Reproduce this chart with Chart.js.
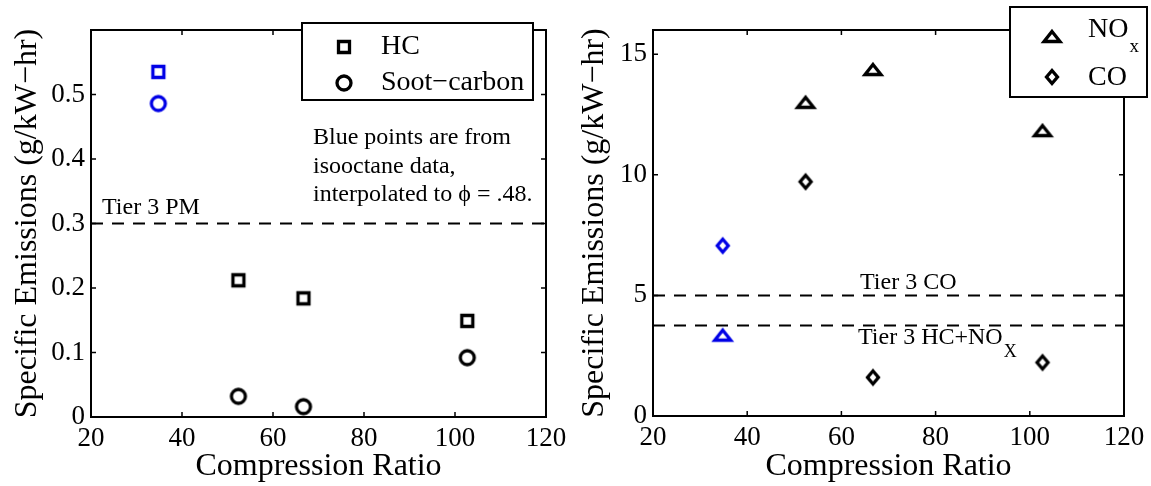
<!DOCTYPE html>
<html>
<head>
<meta charset="utf-8">
<script src="https://cdn.jsdelivr.net/npm/chart.js@4.4.1/dist/chart.umd.min.js"></script>
<style>
  html, body { margin: 0; padding: 0; background: #fff; }
  #wrap { position: relative; width: 1151px; height: 486px; }
  canvas { position: absolute; left: 0; top: 0; }
</style>
</head>
<body>
<div id="wrap">
  <canvas id="pm" width="1151" height="486"></canvas>
  <canvas id="gas" width="1151" height="486"></canvas>
</div>
<script>
// compression ratios; the first point of each series is isooctane data
var ratio = [34.8, 52.4, 66.7, 102.7];
var fuel = ['isooctane', 'base', 'base', 'base'];

// g/kW-hr
var hc = [0.535, 0.212, 0.184, 0.149];
var soot = [0.486, 0.032, 0.016, 0.092];
var nox = [3.33, 12.98, 14.34, 11.81];
var co = [7.06, 9.71, 1.60, 2.22];

// Tier 3 limits
var tier3PM = 0.3;
var tier3CO = 5.0;
var tier3HCNOx = 3.75;

var ticksX = [20, 40, 60, 80, 100, 120];
var pmTicksY = [0, 0.1, 0.2, 0.3, 0.4, 0.5];
var gasTicksY = [0, 5, 10, 15];

var serif = '"Liberation Serif", "Times New Roman", serif';
var BLUE = '#0000e6';

function marker(shape, color) {
  var c = document.createElement('canvas');
  c.width = 28; c.height = 28;
  var g = c.getContext('2d');
  g.strokeStyle = color;
  g.lineWidth = 3.3;
  g.lineJoin = 'miter';
  g.beginPath();
  if (shape == 'square') g.rect(8.5, 8.5, 11, 11);
  else if (shape == 'circle') g.arc(14, 14, 7, 0, Math.PI * 2);
  else if (shape == 'triangle') { g.moveTo(14, 8.5); g.lineTo(22, 18.5); g.lineTo(6, 18.5); g.closePath(); }
  else { g.moveTo(14, 7.5); g.lineTo(19.5, 14); g.lineTo(14, 20.5); g.lineTo(8.5, 14); g.closePath(); }
  g.stroke();
  return c;
}

var marks = {};
['square', 'circle', 'triangle', 'diamond'].forEach(function (s) {
  marks[s] = { black: marker(s, '#000'), blue: marker(s, BLUE) };
});

function styleFor(shape) {
  return function (ctx) {
    return fuel[ctx.dataIndex] === 'isooctane' ? marks[shape].blue : marks[shape].black;
  };
}

function pts(ys) {
  return ratio.map(function (x, i) { return { x: x, y: ys[i] }; });
}

function limit(v) {
  return [{ x: ticksX[0], y: v }, { x: ticksX[ticksX.length - 1], y: v }];
}

function series(label, ys, shape) {
  return { type: 'scatter', label: label, data: pts(ys), pointStyle: styleFor(shape), pointRadius: 7 };
}

function limitLine(label, v) {
  return {
    type: 'line', label: label, data: limit(v), borderColor: '#000', borderWidth: 2,
    borderDash: [12, 9], pointRadius: 0, fill: false
  };
}

// box with inward ticks on all four sides
var frame = {
  id: 'frame',
  afterDatasetsDraw: function (chart) {
    var a = chart.chartArea, ctx = chart.ctx, sx = chart.scales.x, sy = chart.scales.y;
    ctx.save();
    ctx.strokeStyle = '#000';
    ctx.lineWidth = 1.5;
    ctx.beginPath();
    sx.ticks.forEach(function (t) {
      var p = sx.getPixelForValue(t.value);
      ctx.moveTo(p, a.bottom); ctx.lineTo(p, a.bottom - 5);
      ctx.moveTo(p, a.top); ctx.lineTo(p, a.top + 5);
    });
    sy.ticks.forEach(function (t) {
      var p = sy.getPixelForValue(t.value);
      ctx.moveTo(a.left, p); ctx.lineTo(a.left + 5, p);
      ctx.moveTo(a.right, p); ctx.lineTo(a.right - 5, p);
    });
    ctx.stroke();
    ctx.lineWidth = 2;
    ctx.strokeRect(a.left, a.top, a.right - a.left, a.bottom - a.top);
    ctx.restore();
  }
};

function text(ctx, s, x, y, size, sub, subSize, subDrop) {
  ctx.font = size + 'px ' + serif;
  ctx.fillText(s, x, y);
  if (sub) {
    var w = ctx.measureText(s).width;
    ctx.font = subSize + 'px ' + serif;
    ctx.fillText(sub, x + w + 1, y + subDrop);
  }
}

function drawKey(ctx, box, rows) {
  ctx.save();
  ctx.fillStyle = '#fff';
  ctx.fillRect(box.x, box.y, box.w, box.h);
  ctx.lineWidth = 2;
  ctx.strokeStyle = '#000';
  ctx.strokeRect(box.x, box.y, box.w, box.h);
  ctx.fillStyle = '#000';
  ctx.textAlign = 'left';
  ctx.textBaseline = 'middle';
  rows.forEach(function (r) {
    ctx.drawImage(r.img, box.markX - r.img.width / 2, r.markY - r.img.height / 2);
    text(ctx, r.text, box.textX, r.y, 28, r.sub, 19, 17);
  });
  ctx.restore();
}

function makeChart(id, cfg) {
  var font = { family: serif, size: 27 };
  return new Chart(document.getElementById(id), {
    type: 'scatter',
    data: { datasets: cfg.datasets },
    options: {
      responsive: false,
      animation: false,
      events: [],
      layout: { padding: cfg.padding },
      plugins: { legend: { display: false }, tooltip: { enabled: false } },
      scales: {
        x: {
          type: 'linear', min: 20, max: 120,
          afterBuildTicks: function (s) { s.ticks = ticksX.map(function (v) { return { value: v }; }); },
          afterFit: function (s) { s.height = cfg.xHeight; },
          grid: { display: false, drawTicks: false },
          border: { display: false },
          ticks: { font: font, color: '#000', padding: 6, maxRotation: 0, autoSkip: false },
          title: {
            display: true, text: 'Compression Ratio', color: '#000',
            font: { family: serif, size: 32 }, padding: { top: 0, bottom: 0 }
          }
        },
        y: {
          type: 'linear', min: 0, max: cfg.yMax,
          afterBuildTicks: function (s) { s.ticks = cfg.yTicks.map(function (v) { return { value: v }; }); },
          afterFit: function (s) { s.width = cfg.yWidth; },
          grid: { display: false, drawTicks: false },
          border: { display: false },
          ticks: { font: font, color: '#000', padding: 6, callback: function (v) { return String(v); } },
          title: {
            display: true, text: 'Specific Emissions (g/kW\u2212hr)', color: '#000',
            font: { family: serif, size: 32 }, padding: { top: cfg.titlePad, bottom: 0 }
          }
        }
      }
    },
    plugins: [frame, { id: 'notes', afterDraw: cfg.notes }]
  });
}

// particulates panel
makeChart('pm', {
  padding: { left: 0, top: 30, right: 605, bottom: 0 },
  xHeight: 69, yWidth: 91, titlePad: 8,
  yMax: 0.6, yTicks: pmTicksY,
  datasets: [
    series('HC', hc, 'square'),
    series('Soot\u2212carbon', soot, 'circle'),
    limitLine('Tier 3 PM', tier3PM)
  ],
  notes: function (chart) {
    var ctx = chart.ctx;
    ctx.save();
    ctx.fillStyle = '#000';
    ctx.textAlign = 'left';
    ctx.textBaseline = 'middle';
    text(ctx, 'Tier 3 PM', 102, 208, 24);
    text(ctx, 'Blue points are from', 313, 138, 24);
    text(ctx, 'isooctane data,', 313, 167, 24);
    text(ctx, 'interpolated to \u03d5 = .48.', 313, 195, 24);
    ctx.restore();
    drawKey(ctx, { x: 302, y: 23, w: 231, h: 77, markX: 344, textX: 381 }, [
      { img: marks.square.black, markY: 47, text: 'HC', y: 47 },
      { img: marks.circle.black, markY: 83, text: 'Soot\u2212carbon', y: 83 }
    ]);
  }
});

// gaseous emissions panel
makeChart('gas', {
  padding: { left: 570, top: 30, right: 27, bottom: 0 },
  xHeight: 70, yWidth: 83, titlePad: 5,
  yMax: 16, yTicks: gasTicksY,
  datasets: [
    series('NOx', nox, 'triangle'),
    series('CO', co, 'diamond'),
    limitLine('Tier 3 CO', tier3CO),
    limitLine('Tier 3 HC+NOx', tier3HCNOx)
  ],
  notes: function (chart) {
    var ctx = chart.ctx;
    ctx.save();
    ctx.fillStyle = '#000';
    ctx.textAlign = 'left';
    ctx.textBaseline = 'middle';
    text(ctx, 'Tier 3 CO', 860, 283, 24);
    text(ctx, 'Tier 3 HC+NO', 858, 338, 24, 'X', 18, 14);
    ctx.restore();
    drawKey(ctx, { x: 1010, y: 7, w: 137, h: 90, markX: 1052, textX: 1088 }, [
      { img: marks.triangle.black, markY: 37, text: 'NO', sub: 'x', y: 30 },
      { img: marks.diamond.black, markY: 77, text: 'CO', y: 78 }
    ]);
  }
});
</script>
</body>
</html>
